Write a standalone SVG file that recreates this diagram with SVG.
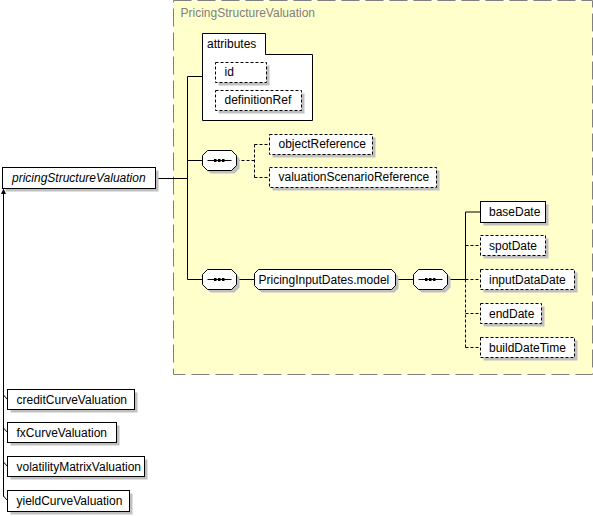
<svg xmlns="http://www.w3.org/2000/svg" width="593" height="517" viewBox="0 0 593 517">
<style>
text { font-family: "Liberation Sans", Arial, sans-serif; font-size: 12px; fill: #000; }
.title { fill: #808080; }
.ital { font-style: italic; }
.box { fill: #fff; stroke: #000; stroke-width: 1; }
.opt { fill: #fff; stroke: #000; stroke-width: 1; stroke-dasharray: 3 2; }
.shadow { fill: #c0c0c0; stroke: none; }
.line { fill: none; stroke: #000; stroke-width: 1; }
.dline { fill: none; stroke: #000; stroke-width: 1; stroke-dasharray: 3 2; }
.grp { fill: #ffffcc; stroke: #808080; stroke-width: 1; stroke-dasharray: 18 6; }
</style>
<defs>
  <g id="seq">
    <polygon class="shadow" transform="translate(3,3)" points="5,0 29,0 34,5 34,15 29,20 5,20 0,15 0,5"/>
    <polygon class="box" points="5,0 29,0 34,5 34,15 29,20 5,20 0,15 0,5"/>
    <path class="line" d="M5,10 H29"/>
    <rect x="11.5" y="8.5" width="2.5" height="3" fill="#000"/>
    <rect x="15.5" y="8.5" width="2.5" height="3" fill="#000"/>
    <rect x="19.5" y="8.5" width="2.5" height="3" fill="#000"/>
  </g>
</defs>

<g id="PricingStructureValuation">
  <rect class="grp" x="173.5" y="0.5" width="419" height="374"/>
  <text class="title" x="180.5" y="17">PricingStructureValuation</text>
</g>

<g id="connectors">
  <path class="line" d="M155.5,178.5 H187.5 M187.5,76.5 V279.5 M187.5,76.5 H202.5 M187.5,160.5 H202.5 M187.5,279.5 H202.5"/>
  <path class="dline" d="M236.5,160.5 H254.5 M254.5,144.5 V177.5 M254.5,144.5 H269.5 M254.5,177.5 H269.5"/>
  <path class="line" d="M236.5,279.5 H254.5 M395.5,279.5 H413.5 M447.5,279.5 H465.5 M465.5,212 V279.5 M465.5,212 H480.5"/>
  <path class="dline" d="M465.5,279.5 V347.5 M465.5,245.5 H480.5 M465.5,279.5 H480.5 M465.5,313.5 H480.5 M465.5,347.5 H480.5"/>
  <path class="line" d="M3.5,192 V496.5 M3.5,395 L7.5,399.5 M3.5,428 L7.5,432.5 M3.5,462 L7.5,466.5 M3.5,496 L7.5,500.5"/>
  <polygon points="3.5,188.5 1,194 6,194" fill="#000"/>
</g>

<g id="pricingStructureValuation">
  <rect class="shadow" x="5.5" y="170.5" width="153" height="21"/>
  <rect class="box" x="2.5" y="167.5" width="153" height="21"/>
  <text class="ital" x="12" y="182">pricingStructureValuation</text>
</g>

<g id="attributes">
  <path class="box" d="M202.5,33.5 H265.5 V54.5 H312.5 V120.5 H202.5 Z"/>
  <text x="207" y="48">attributes</text>
</g>
<g id="id">
  <rect class="shadow" x="218.5" y="65.5" width="51" height="20"/>
  <rect class="opt" x="215.5" y="62.5" width="51" height="20"/>
  <text x="224.5" y="76">id</text>
</g>
<g id="definitionRef">
  <rect class="shadow" x="218.5" y="93.5" width="86" height="20"/>
  <rect class="opt" x="215.5" y="90.5" width="86" height="20"/>
  <text x="224.5" y="104">definitionRef</text>
</g>

<g id="sequence1"><use href="#seq" x="202.5" y="150.5"/></g>

<g id="objectReference">
  <rect class="shadow" x="272.5" y="137.5" width="103" height="20"/>
  <rect class="opt" x="269.5" y="134.5" width="103" height="20"/>
  <text x="278.5" y="148">objectReference</text>
</g>
<g id="valuationScenarioReference">
  <rect class="shadow" x="272.5" y="170.5" width="167" height="20"/>
  <rect class="opt" x="269.5" y="167.5" width="167" height="20"/>
  <text x="278.5" y="181">valuationScenarioReference</text>
</g>

<g id="sequence2"><use href="#seq" x="202.5" y="269.5"/></g>

<g id="PricingInputDates.model">
  <polygon class="shadow" transform="translate(3,3)" points="258.5,269.5 391.5,269.5 395.5,273.5 395.5,285.5 391.5,289.5 258.5,289.5 254.5,285.5 254.5,273.5"/>
  <polygon class="box" points="258.5,269.5 391.5,269.5 395.5,273.5 395.5,285.5 391.5,289.5 258.5,289.5 254.5,285.5 254.5,273.5"/>
  <text x="258.5" y="284">PricingInputDates.model</text>
</g>

<g id="sequence3"><use href="#seq" x="413.5" y="269.5"/></g>

<g id="baseDate">
  <rect class="shadow" x="483.5" y="204.5" width="65" height="21"/>
  <rect class="box" x="480.5" y="201.5" width="65" height="21"/>
  <text x="489" y="216">baseDate</text>
</g>
<g id="spotDate">
  <rect class="shadow" x="483.5" y="238.5" width="65" height="20"/>
  <rect class="opt" x="480.5" y="235.5" width="65" height="20"/>
  <text x="489" y="249.5">spotDate</text>
</g>
<g id="inputDataDate">
  <rect class="shadow" x="483.5" y="272.5" width="94" height="20"/>
  <rect class="opt" x="480.5" y="269.5" width="94" height="20"/>
  <text x="489" y="283.5">inputDataDate</text>
</g>
<g id="endDate">
  <rect class="shadow" x="483.5" y="306.5" width="61" height="20"/>
  <rect class="opt" x="480.5" y="303.5" width="61" height="20"/>
  <text x="489" y="317.5">endDate</text>
</g>
<g id="buildDateTime">
  <rect class="shadow" x="483.5" y="340.5" width="94" height="20"/>
  <rect class="opt" x="480.5" y="337.5" width="94" height="20"/>
  <text x="489" y="351.5">buildDateTime</text>
</g>

<g id="creditCurveValuation">
  <rect class="shadow" x="10.5" y="392.5" width="127" height="20"/>
  <rect class="box" x="7.5" y="389.5" width="127" height="20"/>
  <text x="16.5" y="403.5">creditCurveValuation</text>
</g>
<g id="fxCurveValuation">
  <rect class="shadow" x="10.5" y="425.5" width="109" height="20"/>
  <rect class="box" x="7.5" y="422.5" width="109" height="20"/>
  <text x="16.5" y="436.5">fxCurveValuation</text>
</g>
<g id="volatilityMatrixValuation">
  <rect class="shadow" x="10.5" y="459.5" width="137" height="20"/>
  <rect class="box" x="7.5" y="456.5" width="137" height="20"/>
  <text x="16.5" y="470.5">volatilityMatrixValuation</text>
</g>
<g id="yieldCurveValuation">
  <rect class="shadow" x="10.5" y="493.5" width="122" height="21"/>
  <rect class="box" x="7.5" y="490.5" width="122" height="21"/>
  <text x="16.5" y="505">yieldCurveValuation</text>
</g>
</svg>
